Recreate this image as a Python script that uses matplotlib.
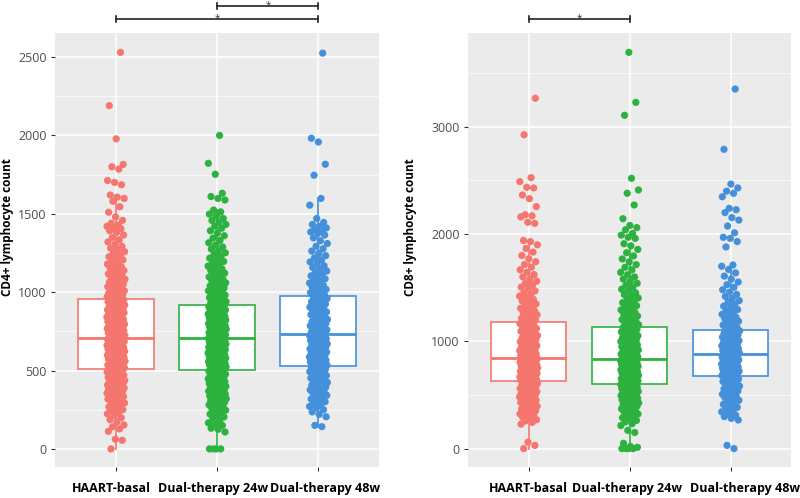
#!/usr/bin/env python3
# -*- coding: utf-8 -*-

import matplotlib
matplotlib.use('Agg')
import matplotlib.pyplot as plt
import matplotlib.transforms as mtransforms
from matplotlib.ticker import MultipleLocator

plt.rcParams['font.family'] = ['Open Sans', 'DejaVu Sans']

groups = ['HAART-basal', 'Dual-therapy 24w', 'Dual-therapy 48w']
colors = ['#F4766E', '#2DB23F', '#4490DA']

# ---- CD4+ values (dense clouds estimated) ----
cd4_haart = [
    0, 55, 62, 112, 128, 141, 153, 172, 186, 199, 213, 224, 233, 245, 251, 262, 268, 279, 284, 293, 297, 305, 311,
    316, 318, 325, 327, 334, 336, 342, 347, 349, 355, 357, 363, 367, 369, 375, 379, 381, 388, 390, 393, 399, 401,
    407, 411, 413, 419, 423, 425, 431, 435, 437, 443, 447, 449, 455, 458, 461, 467, 469, 473, 479, 481, 485, 491,
    493, 497, 503, 507,
    511, 514, 517, 518, 523, 526, 527, 532, 535, 538, 541, 542, 547, 550, 553, 554, 559, 562, 565, 566, 571, 574,
    577, 578, 583, 586, 589, 590, 595, 598, 601, 602, 607, 610, 613, 614, 619, 622, 625, 626, 631, 634, 637, 638,
    643, 646, 649, 650, 655, 658, 661, 662, 667, 670, 673, 674, 679, 682, 685, 686, 691, 694, 697, 698, 703, 705,
    708, 711, 715, 718, 721, 724, 729, 732, 735, 738, 742, 745, 749, 752, 755, 759, 762, 766, 769, 772, 776, 779,
    783, 786, 789, 793, 796, 800, 803, 806, 810, 813, 817, 820, 824, 827, 831, 834, 838, 841, 845, 848, 852, 855,
    859, 862, 866, 869, 873, 876, 880, 884, 887, 891, 895, 898, 902, 906, 910, 914, 918, 922, 926, 930, 934, 938,
    942, 946, 950, 953,
    958, 962, 967, 971, 976, 980, 985, 989, 994, 999, 1004, 1009, 1014, 1019, 1024, 1030, 1035, 1041, 1046, 1052,
    1058, 1064, 1070, 1076, 1082, 1089, 1095, 1102, 1109, 1116, 1123, 1130, 1138, 1146, 1154, 1162, 1170, 1179,
    1188, 1197, 1206, 1216, 1226, 1236, 1247, 1258, 1269, 1281, 1293,
    1306, 1320, 1334, 1349, 1365, 1381, 1392, 1405, 1412, 1420, 1428, 1440, 1458, 1480, 1510, 1545, 1580, 1598, 1606,
    1620, 1685, 1700, 1712, 1785, 1800, 1815, 1978, 2190, 2530]
cd4_dual24 = [
    0, 0, 0, 0, 108, 125, 132, 150, 158, 166, 182, 195, 204, 216, 222, 231, 240, 247, 255, 260, 268, 274, 281,
    287, 292, 298, 303,
    308, 312, 316, 320, 323, 327, 331, 335, 338, 342, 346, 350, 353, 357, 361, 365, 368, 372, 376, 380, 383, 387,
    391, 395, 398, 402, 406, 410, 413, 417, 421, 425, 428, 432, 436, 440, 443, 447, 451, 455, 458, 462, 466, 470,
    473, 477, 481, 485, 488, 492, 496, 500,
    506, 509, 512, 514, 517, 520, 522, 525, 528, 530, 533, 536, 538, 541, 544, 546, 549, 552, 554, 557, 560, 562,
    565, 568, 570, 573, 576, 578, 581, 584, 586, 589, 592, 594, 597, 600, 602, 605, 608, 610, 613, 616, 618, 621,
    624, 626, 629, 632, 634, 637, 640, 642, 645, 648, 650, 653, 656, 658, 661, 664, 666, 669, 672, 674, 677, 680,
    682, 685, 688, 690, 693, 696, 698, 701, 704,
    708, 711, 714, 716, 719, 722, 725, 728, 730, 733, 736, 739, 742, 744, 747, 750, 753, 756, 758, 761, 764, 767,
    770, 772, 775, 778, 781, 784, 786, 789, 792, 795, 798, 800, 803, 806, 809, 812, 814, 817, 820, 823, 826, 828,
    831, 834, 837, 840, 843, 846, 849, 852, 855, 858, 861, 864, 867, 870, 874, 877, 880, 884, 887, 891, 894, 898,
    902, 906, 910, 914, 917,
    922, 927, 931, 936, 940, 945, 950, 955, 960, 965, 970, 975, 981, 986, 992, 997, 1003, 1009, 1015, 1021, 1027,
    1033, 1040, 1046, 1053, 1060, 1067, 1074, 1081, 1089, 1097, 1105, 1113, 1121, 1130, 1139, 1148, 1157, 1166,
    1176, 1186, 1196, 1206, 1217, 1228, 1239, 1251, 1263, 1275, 1288,
    1301, 1315, 1330, 1345, 1360, 1376, 1392, 1408, 1420, 1432, 1446, 1458, 1470, 1485, 1498, 1512, 1524,
    1588, 1598, 1610, 1631, 1752, 1822, 2000]
cd4_dual48 = [
    142, 150, 205, 221, 236, 250, 262, 271, 283, 292, 301, 309, 318, 326, 334, 342, 350, 357,
    364, 370, 377, 383, 389, 395, 401, 407, 413, 418, 424, 430, 435, 441, 446, 452, 457, 462, 468, 473, 478, 483,
    488, 493, 498, 503, 508, 513, 518, 523, 528,
    534, 538, 542, 546, 550, 554, 558, 562, 566, 570, 574, 578, 582, 586, 590, 594, 598, 602, 606, 610, 614, 618,
    622, 626, 630, 634, 638, 642, 646, 650, 654, 658, 662, 666, 670, 674, 678, 682, 686, 690, 694, 698, 702, 706,
    710, 714, 718, 722, 726, 730,
    735, 740, 745, 750, 755, 760, 765, 770, 775, 780, 785, 790, 795, 800, 805, 810, 815, 820, 826, 832, 838, 844,
    850, 856, 862, 868, 874, 880, 886, 892, 898, 904, 910, 917, 924, 931, 938, 945, 952, 959, 966, 973,
    983, 990, 997, 1004, 1011, 1018, 1026, 1034, 1042, 1050, 1058, 1067, 1076, 1085, 1094, 1104, 1114, 1124, 1135,
    1146, 1157, 1169, 1181, 1193, 1206, 1219, 1233, 1247, 1262, 1277, 1293,
    1310, 1328, 1346, 1365, 1375, 1384, 1392, 1403, 1410, 1420, 1432, 1445, 1470, 1555, 1598,
    1746, 1816, 1958, 1982, 2525]

# ---- CD8+ values ----
cd8_haart = [
    0, 30, 60, 228, 245, 258, 270, 282, 293, 304, 314, 324, 334, 343, 352, 361, 370, 378, 386, 394, 402, 410,
    417, 424, 431, 438, 445, 452, 458, 464, 470, 476, 482, 488, 494, 500, 506, 512, 518, 524, 530, 536, 542, 548,
    554, 560, 566, 572, 578, 584, 590, 596, 602, 608, 614, 620, 626, 632,
    637, 641, 645, 649, 653, 657, 661, 665, 669, 673, 677, 681, 685, 689, 693, 697, 701, 705, 709, 713, 717, 721,
    725, 729, 733, 737, 741, 745, 749, 753, 757, 761, 765, 769, 773, 777, 781, 785, 789, 793, 797, 801, 805, 809,
    813, 817, 821, 825, 829, 833, 837, 840,
    846, 852, 858, 864, 870, 876, 882, 888, 894, 900, 906, 912, 918, 924, 930, 936, 942, 948, 954, 960, 967, 974,
    981, 988, 995, 1002, 1009, 1016, 1023, 1030, 1038, 1046, 1054, 1062, 1070, 1078, 1086, 1094, 1102, 1111, 1120,
    1129, 1138, 1147, 1156, 1165, 1174,
    1185, 1195, 1205, 1215, 1226, 1237, 1248, 1259, 1271, 1283, 1295, 1308, 1321, 1334, 1348, 1362, 1376, 1391,
    1406, 1421, 1437, 1453, 1470, 1487, 1505, 1523, 1542, 1561, 1581, 1601, 1622, 1644, 1667, 1691, 1716, 1742,
    1770, 1800, 1832, 1866, 1900, 1930,
    1940, 2100, 2110, 2160, 2170, 2180, 2256, 2330, 2364, 2430, 2436, 2489, 2526, 2926, 3266]
cd8_dual24 = [
    0, 0, 0, 0, 12, 20, 50, 150, 170, 215, 232, 248, 262, 275, 288, 300, 311, 322, 333, 343, 353, 362, 371, 380, 389,
    396, 402, 408, 414, 420, 426, 432, 438, 444, 449, 454, 459, 464, 469, 474, 479, 484, 489, 494, 499, 504, 509,
    514, 519, 524, 529, 534, 539, 544, 549, 554, 559, 564, 569, 574, 579, 584, 589, 594, 598,
    603, 607, 611, 615, 619, 623, 627, 631, 635, 639, 643, 647, 651, 655, 659, 663, 667, 671, 675, 679, 683, 687,
    691, 695, 699, 703, 707, 711, 715, 719, 723, 727, 731, 735, 739, 743, 747, 751, 755, 759, 763, 767, 771, 775,
    779, 783, 787, 791, 795, 799, 803, 807, 811, 815, 819, 823, 827, 831, 834,
    841, 846, 851, 856, 861, 866, 871, 876, 881, 886, 891, 896, 901, 906, 911, 916, 921, 926, 932, 938, 944, 950,
    956, 962, 968, 974, 980, 986, 992, 998, 1004, 1010, 1017, 1024, 1031, 1038, 1045, 1052, 1059, 1066, 1073, 1080,
    1088, 1096, 1104, 1112, 1120, 1128,
    1137, 1146, 1155, 1164, 1173, 1183, 1193, 1203, 1213, 1224, 1235, 1246, 1257, 1269, 1281, 1293, 1306, 1319,
    1332, 1346, 1360, 1374, 1389, 1404, 1420, 1436, 1452, 1469, 1486, 1504, 1522, 1541, 1560, 1580, 1600, 1621,
    1643, 1666, 1690, 1715, 1741, 1768, 1796, 1826, 1857, 1890,
    1910, 1960, 1970, 1990, 2006, 2040, 2060, 2080, 2143, 2271, 2380, 2411, 2520, 3107, 3228, 3694]
cd8_dual48 = [
    0, 30, 267, 282, 298, 313, 328, 343, 357, 371, 385, 399, 412, 425, 438, 450, 462, 474,
    485, 496, 507, 517, 527, 537, 547, 556, 565, 574, 583, 592, 601, 609, 617, 625, 633, 641, 649, 656, 663, 670, 676,
    682, 687, 692, 697, 702, 707, 712, 717, 722, 727, 732, 737, 742, 747, 752, 757, 762, 767, 772, 777, 782, 787,
    792, 797, 802, 807, 812, 817, 822, 827, 832, 837, 842, 847, 852, 857, 862, 867, 872, 877, 881,
    887, 892, 897, 902, 907, 912, 917, 922, 927, 932, 937, 942, 947, 952, 958, 964, 970, 976, 982, 988, 994, 1000,
    1006, 1012, 1018, 1025, 1032, 1039, 1046, 1053, 1060, 1067, 1074, 1082, 1090, 1098,
    1110, 1120, 1130, 1141, 1152, 1163, 1175, 1187, 1199, 1212, 1225, 1238, 1252, 1266, 1281, 1296, 1312, 1328,
    1345, 1362, 1380, 1399, 1418, 1438, 1459, 1481, 1504, 1528, 1553, 1580, 1608, 1638, 1670, 1700, 1712,
    1880, 1930, 1960, 1970, 2012, 2075, 2130, 2153, 2200, 2227, 2240, 2348, 2380, 2400, 2430, 2466, 2790, 3352]

# box statistics (whisker low, Q1, median, Q3, whisker high)
cd4_whislo = [0, 0, 142]
cd4_q1 = [510, 504, 531]
cd4_med = [706, 706, 732]
cd4_q3 = [955, 918, 978]
cd4_whishi = [1609, 1524, 1599]

cd8_whislo = [0, 0, 267]
cd8_q1 = [634, 600, 678]
cd8_med = [842, 836, 883]
cd8_q3 = [1178, 1131, 1103]
cd8_whishi = [1938, 1900, 1712]

# significance brackets: (group a, group b, height in axes fraction)
cd4_sig = [(0, 2, 1.033), (1, 2, 1.063)]
cd8_sig = [(0, 1, 1.033)]


def jitter(n, seed, width=0.09):
    # golden-ratio sequence: fills the strip evenly, same every run
    return [(((i + seed * 0.37) * 0.6180339887) % 1.0 - 0.5) * 2 * width for i in range(n)]


def draw_panel(ax, values, whislo, q1, med, q3, whishi, ylabel, ylim, step, sig,
               label_x, label_shift):
    ax.set_facecolor('#EBEBEB')
    for s in ax.spines.values():
        s.set_visible(False)

    positions = [1, 2, 3]
    stats = []
    for i in range(3):
        stats.append({'whislo': whislo[i], 'q1': q1[i], 'med': med[i],
                      'q3': q3[i], 'whishi': whishi[i], 'fliers': []})
    bp = ax.bxp(stats, positions=positions, widths=0.75, showfliers=False,
                showcaps=False, patch_artist=True)
    for i, c in enumerate(colors):
        bp['boxes'][i].set(facecolor='white', edgecolor=c, linewidth=1.2, zorder=2)
        bp['medians'][i].set(color=c, linewidth=2.0, zorder=2.1)
        for w in bp['whiskers'][2 * i:2 * i + 2]:
            w.set(color=c, linewidth=1.2, zorder=2)

    for i, vals in enumerate(values):
        xs = [positions[i] + d for d in jitter(len(vals), i + 1)]
        ax.scatter(xs, vals, s=27, color=colors[i], edgecolors='none', zorder=3)

    ax.set_xlim(0.4, 3.6)
    ax.set_ylim(*ylim)
    ax.yaxis.set_major_locator(MultipleLocator(step))
    ax.yaxis.set_minor_locator(MultipleLocator(step / 2))
    ax.grid(which='major', color='white', linewidth=1.1, zorder=0)
    ax.grid(which='minor', axis='y', color='white', linewidth=0.5, zorder=0)
    ax.set_axisbelow(True)
    ax.set_xticks(positions)
    ax.set_xticklabels(groups, fontsize=9, fontweight='bold')
    ax.tick_params(axis='y', which='minor', length=0)
    ax.tick_params(which='major', length=3, color='#333333', labelsize=9,
                   labelcolor='#4D4D4D', pad=3)
    ax.tick_params(axis='x', pad=8, labelcolor='black', labelsize=9)
    # the labels in the source sit a little off their ticks
    for lab, dx in zip(ax.get_xticklabels(), label_shift):
        lab.set_transform(lab.get_transform() +
                          mtransforms.ScaledTranslation(dx / 100, 0, ax.figure.dpi_scale_trans))
    ax.set_ylabel(ylabel, fontsize=8.5, fontweight='bold')
    ax.yaxis.set_label_coords(label_x, 0.553)

    trans = mtransforms.blended_transform_factory(ax.transData, ax.transAxes)
    for a, b, h in sig:
        xa, xb = positions[a], positions[b]
        ax.plot([xa, xb], [h, h], color='#222222', lw=1.2, transform=trans, clip_on=False)
        for x in (xa, xb):
            ax.plot([x, x], [h - 0.006, h + 0.006], color='#222222', lw=1.2,
                    transform=trans, clip_on=False)
        ax.text((xa + xb) / 2, h - 0.005, '*', ha='center', va='baseline', fontsize=7,
                color='#333333', transform=trans, clip_on=False)


fig = plt.figure(figsize=(8, 4.98), dpi=100)
ax1 = fig.add_axes([0.069, 0.063, 0.405, 0.870])
ax2 = fig.add_axes([0.585, 0.063, 0.404, 0.870])

draw_panel(ax1, [cd4_haart, cd4_dual24, cd4_dual48], cd4_whislo, cd4_q1, cd4_med, cd4_q3,
           cd4_whishi, 'CD4+ lymphocyte count', (-113, 2651), 500, cd4_sig,
           -0.128, [-5, -4, 7])
draw_panel(ax2, [cd8_haart, cd8_dual24, cd8_dual48], cd8_whislo, cd8_q1, cd8_med, cd8_q3,
           cd8_whishi, 'CD8+ lymphocyte count', (-168, 3871), 1000, cd8_sig,
           -0.158, [0, -3, 14])

fig.savefig('out.png', dpi=100, facecolor='white')
